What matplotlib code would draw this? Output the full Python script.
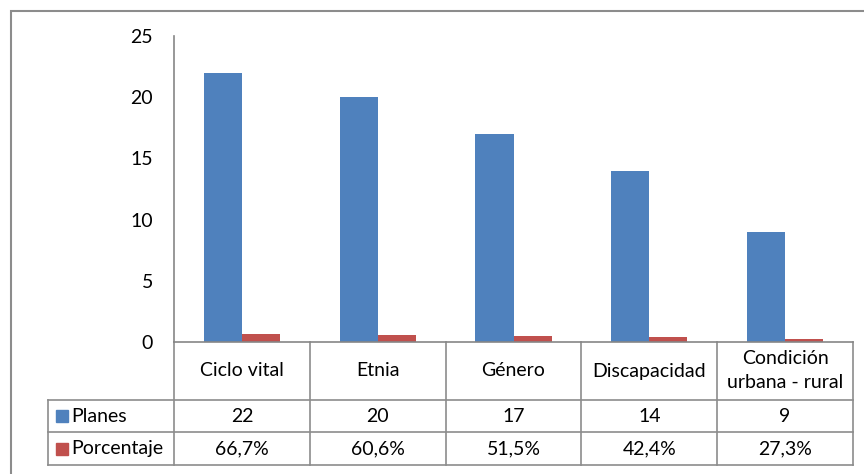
import matplotlib
matplotlib.use('Agg')
import matplotlib.pyplot as plt
import matplotlib.transforms as mtransforms
from matplotlib.patches import Rectangle

categories = ['Ciclo vital', 'Etnia', 'Género', 'Discapacidad', 'Condición\nurbana - rural']
planes = [22, 20, 17, 14, 9]
porcentaje = [0.667, 0.606, 0.515, 0.424, 0.273]
planes_labels = ['22', '20', '17', '14', '9']
porcentaje_labels = ['66,7%', '60,6%', '51,5%', '42,4%', '27,3%']
series_names = ['Planes', 'Porcentaje']
colors = ['#4F81BD', '#C0504D']
yticks = [0, 5, 10, 15, 20, 25]

plt.rcParams['font.family'] = ['Lato', 'DejaVu Sans']
plt.rcParams['font.size'] = 14

fig = plt.figure(figsize=(8.64, 4.74), dpi=100)
ax = fig.add_axes([174 / 864, 1 - 342 / 474, (853 - 174) / 864, (342 - 36) / 474])

x = list(range(len(categories)))
w = 0.28
ax.bar([i - w / 2 for i in x], planes, width=w, color=colors[0])
ax.bar([i + w / 2 for i in x], porcentaje, width=w, color=colors[1])

ax.set_xlim(-0.5, len(categories) - 0.5)
ax.set_ylim(0, 25)
ax.set_yticks(yticks)
ax.set_xticks([])
ax.tick_params(axis='y', length=0, pad=15, labelsize=14)
for s in ['top', 'right']:
    ax.spines[s].set_visible(False)
for s in ['left', 'bottom']:
    ax.spines[s].set_color('#868686')
    ax.spines[s].set_linewidth(1.2)

# data table below the axis
tr = mtransforms.blended_transform_factory(ax.transData, ax.transAxes)
gray = '#8c8c8c'
y_head = -58 / 306
y_r1 = -90 / 306
y_r2 = -123 / 306
x_left = -0.5 - 126 / 135.8
x_right = len(categories) - 0.5

def line(xs, ys):
    ax.plot(xs, ys, color=gray, lw=1.2, transform=tr, clip_on=False)

for b in range(len(categories) + 1):
    line([b - 0.5, b - 0.5], [0, y_r2])
line([x_left, x_left], [y_head, y_r2])
for yy in [y_head, y_r1, y_r2]:
    line([x_left, x_right], [yy, yy])

for i, c in enumerate(categories):
    ax.text(i, y_head / 2, c, ha='center', va='center', transform=tr, linespacing=1.5)
    ax.text(i, (y_head + y_r1) / 2, planes_labels[i], ha='center', va='center', transform=tr)
    ax.text(i, (y_r1 + y_r2) / 2, porcentaje_labels[i], ha='center', va='center', transform=tr)

for k, (name, yc) in enumerate(zip(series_names, [(y_head + y_r1) / 2, (y_r1 + y_r2) / 2])):
    ax.plot([x_left + 0.1], [yc], marker='s', ms=8.5, color=colors[k], transform=tr, clip_on=False)
    ax.text(x_left + 0.17, yc, name, ha='left', va='center', transform=tr)

# chart area border
fig.patches.append(Rectangle((11 / 864, -0.1), 1.1, 1 - 11 / 474 + 0.1, transform=fig.transFigure,
                             fill=False, edgecolor='#8c8c8c', lw=1.5))

fig.savefig('out.png', dpi=100)
